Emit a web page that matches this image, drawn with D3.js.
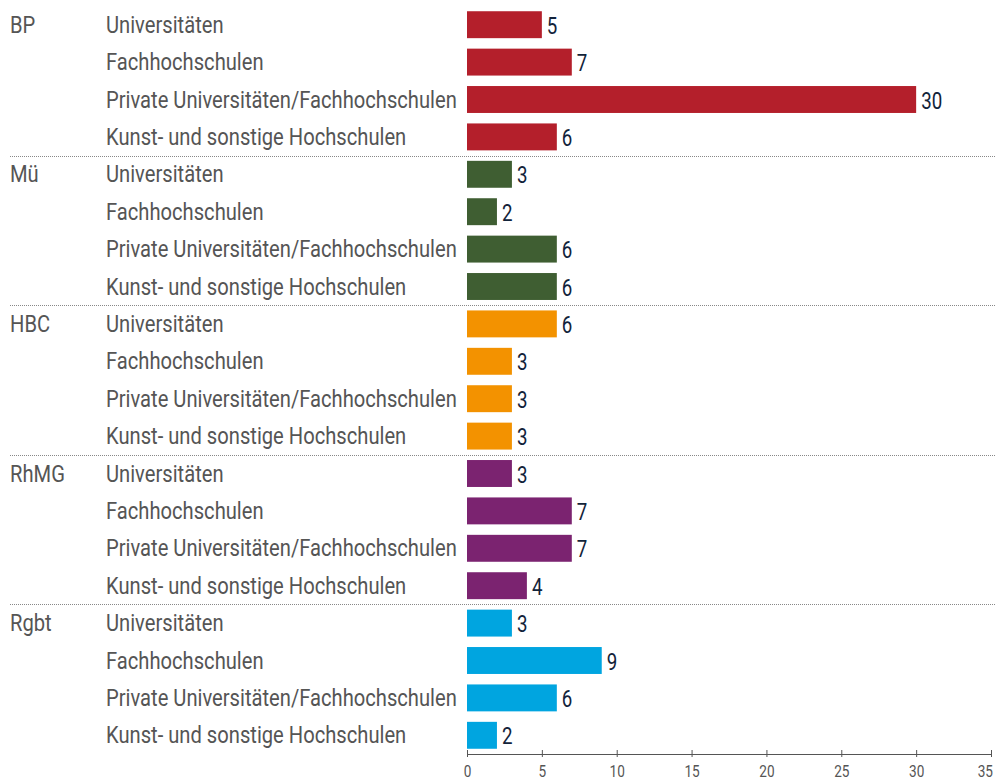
<!DOCTYPE html>
<html><head><meta charset="utf-8">
<script src="https://cdn.jsdelivr.net/npm/d3@7"></script>
<style>
body{margin:0;background:#fff;}
text{font-family:"Roboto","Noto Sans",sans-serif;}
</style></head>
<body><svg id="c" width="996" height="780"></svg>
<script>
const groups = ["BP","Mü","HBC","RhMG","Rgbt"];
const categories = ["Universitäten","Fachhochschulen","Private Universitäten/Fachhochschulen","Kunst- und sonstige Hochschulen"];
const valuesBP   = [5,7,30,6];
const valuesMu   = [3,2,6,6];
const valuesHBC  = [6,3,3,3];
const valuesRhMG = [3,7,7,4];
const valuesRgbt = [3,9,6,2];
const colors = ["#b41f2b","#3f5e32","#f39200","#7b2370","#00a5e0"];
const xTicks = [0,5,10,15,20,25,30,35];

const seriesVals = [valuesBP,valuesMu,valuesHBC,valuesRhMG,valuesRgbt];
const rows = [];
groups.forEach((g,gi)=>categories.forEach((c,ci)=>rows.push({g,gi,c,ci,v:seriesVals[gi][ci],key:g+"|"+c})));

const svg = d3.select("#c");
const x = d3.scaleLinear().domain([0,35]).range([467,991]);
const y = d3.scaleBand().domain(rows.map(r=>r.key)).range([6,754]).paddingInner(0.28).paddingOuter(0.14);
const step = y.step();
const cy = k => y(k)+y.bandwidth()/2;

// separators
groups.slice(1).forEach((g,i)=>{
  const yy = Math.round(y(g+"|"+categories[0]) - (step - y.bandwidth())/2)+0.5;
  svg.append("line").attr("x1",10).attr("x2",996).attr("y1",yy).attr("y2",yy)
    .attr("stroke","#888").attr("stroke-width",1).attr("stroke-dasharray","1,1");
});

svg.selectAll("rect.bar").data(rows).join("rect").attr("class","bar")
  .attr("x",x(0)).attr("y",d=>y(d.key)).attr("height",y.bandwidth())
  .attr("width",d=>x(d.v)-x(0)).attr("fill",d=>colors[d.gi]);

svg.selectAll("text.val").data(rows).join("text").attr("class","val")
  .attr("transform",d=>`translate(${x(d.v)+5},${cy(d.key)+9}) scale(0.78,1)`)
  .attr("font-size",24).attr("font-weight",400).attr("fill","#12233a").text(d=>d.v);

svg.selectAll("text.cat").data(rows).join("text").attr("class","cat")
  .attr("font-size",24).attr("fill","#555").text(d=>d.c);
svg.selectAll("text.grp").data(groups).join("text").attr("class","grp")
  .attr("font-size",24).attr("fill","#555").text(g=>g);

// fit longest category label to reference width
let s = 0.853;
const longest = svg.selectAll("text.cat").filter(d=>d.ci===2).node();
if (longest) { const w = longest.getComputedTextLength(); if (w>0) s = 351 / w; }
svg.selectAll("text.cat").attr("transform",d=>`translate(106,${cy(d.key)+8}) scale(${s},1)`);
svg.selectAll("text.grp").attr("transform",g=>`translate(10,${cy(g+"|"+categories[0])+8}) scale(${s},1)`);

const ax = svg.append("g").attr("transform","translate(0,754)")
  .call(d3.axisBottom(x).tickValues(xTicks).tickSize(3).tickSizeOuter(0));
ax.select(".domain").attr("stroke","#555");
ax.selectAll(".tick line").attr("stroke","#555").attr("y1",-4).attr("y2",3);
ax.selectAll(".tick text").remove();
ax.selectAll(".tick").append("text")
  .attr("transform",(d,i,n)=> i===n.length-1 ? "translate(1.5,23) scale(0.8,1)" : "translate(0,23) scale(0.8,1)")
  .attr("text-anchor",(d,i,n)=> i===n.length-1 ? "end" : "middle")
  .attr("font-size",17).attr("fill","#555")
  .text(d=>d);
</script></body></html>
